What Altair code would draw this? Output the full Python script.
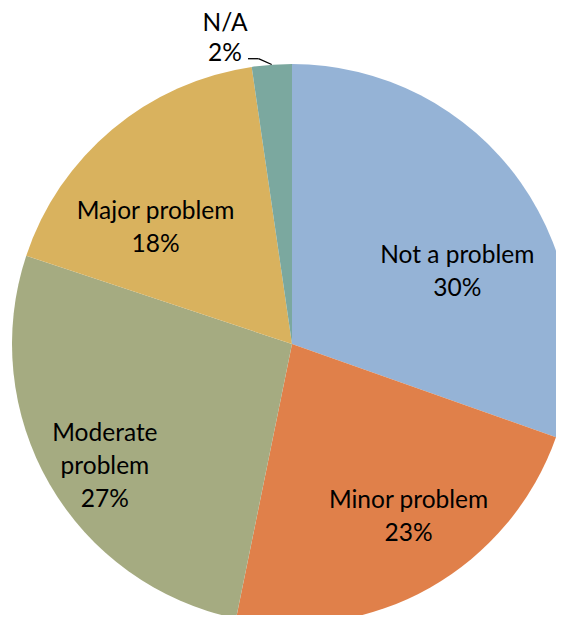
import altair as alt
import pandas as pd

categories = ["Not a problem", "Minor problem", "Moderate problem", "Major problem", "N/A"]
shares = [30.4, 22.8, 26.9, 17.6, 2.3]
labels = ["Not a problem\n30%", "Minor problem\n23%", "Moderate\nproblem\n27%", "Major problem\n18%", "N/A\n2%"]
colors = ["#95B3D6", "#E0804A", "#A5AB81", "#D9B25E", "#7BA89F"]

df = pd.DataFrame({
    "category": categories,
    "share": shares,
    "label": labels,
    "order": list(range(len(categories))),
})

CX, CY, R = 284, 336, 280
FONT = "Lato"
FS = 24.5
LH = 33

# per-label nudges (pixels) from the default radial position
nudges = {
    "Not a problem": (2, 28),
    "Minor problem": (18, -17),
    "Moderate problem": (-14, -10),
    "Major problem": (-8, 21),
}

base = alt.Chart(df).encode(
    theta=alt.Theta("share:Q", stack=True),
    order=alt.Order("order:Q"),
)

pie = base.mark_arc(outerRadius=R).encode(
    x=alt.value(CX), y=alt.value(CY),
    color=alt.Color("category:N", scale=alt.Scale(domain=categories, range=colors), legend=None),
)

layers = [pie]
for cat in categories[:4]:
    ddx, ddy = nudges[cat]
    layers.append(
        base.transform_calculate(
            txt=f"datum.category == '{cat}' ? datum.label : ''"
        ).mark_text(radius=200, fontSize=FS, lineBreak="\n", lineHeight=LH,
                    font=FONT, color="black", dx=ddx, dy=ddy).encode(
            x=alt.value(CX), y=alt.value(CY),
            text=alt.Text("txt:N"),
        )
    )

na_df = df[df["category"] == "N/A"]
na = alt.Chart(na_df).mark_text(
    fontSize=FS, lineBreak="\n", lineHeight=30, font=FONT, color="black"
).encode(x=alt.value(217), y=alt.value(16), text=alt.Text("label:N"))

lead1 = alt.Chart(na_df).mark_rule(color="black", strokeWidth=1.3).encode(
    x=alt.value(240), x2=alt.value(250.5), y=alt.value(50.7), y2=alt.value(50.7))
lead2 = alt.Chart(na_df).mark_rule(color="black", strokeWidth=1.3).encode(
    x=alt.value(250.5), x2=alt.value(263.7), y=alt.value(50.7), y2=alt.value(56.5))

layers += [na, lead1, lead2]

chart = alt.layer(*layers).properties(
    width=548, height=607, padding=0,
    autosize=alt.AutoSizeParams(type="none"),
).configure_view(strokeWidth=0)

chart.save("out.html", embed_options={"renderer": "svg", "actions": False})
